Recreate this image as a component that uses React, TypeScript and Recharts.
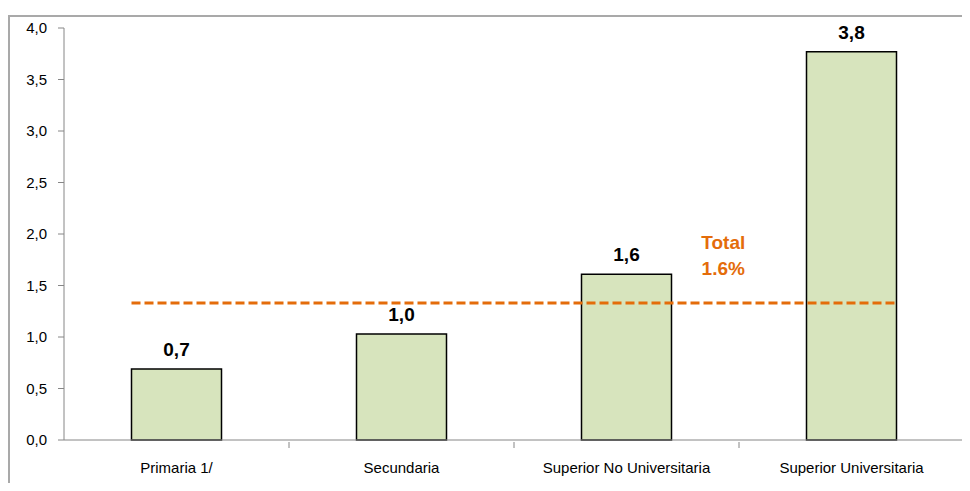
import React from "react";
import {
  BarChart,
  Bar,
  XAxis,
  YAxis,
  ReferenceLine,
  ReferenceDot,
  LabelList,
} from "recharts";

const categories = [
  "Primaria 1/",
  "Secundaria",
  "Superior No Universitaria",
  "Superior Universitaria",
];
const rates = [0.69, 1.03, 1.61, 3.77];
const yTicks = [0, 0.5, 1, 1.5, 2, 2.5, 3, 3.5, 4];
const totalLine = 1.33;
const totalValue = 1.6;
const totalLabel = ["Total", "1.6%"];

const data = categories.map((name, i) => ({ name, value: rates[i] }));

const ORANGE = "#e46c0a";
const GRAY = "#868686";
const FONT = "'Liberation Sans', Arial, sans-serif";

const CHART_W = 962;
const MARGIN = { top: 11, right: 8, bottom: 17, left: 0 };
const Y_W = 54;
const BAND = (CHART_W - MARGIN.left - MARGIN.right - Y_W) / categories.length;
const GAP = 0.3; // barCategoryGap as fraction of band

const comma = (v: number) => v.toFixed(1).replace(".", ",");

function CategoryTick(props: any) {
  const { x, y, payload } = props;
  const right = x + BAND / 2;
  return (
    <g>
      <line x1={right} y1={y} x2={right} y2={y + 6} stroke={GRAY} />
      <text
        x={x}
        y={y + 20}
        dy="0.71em"
        textAnchor="middle"
        fill="#000"
        fontSize={15}
        fontFamily={FONT}
      >
        {payload.value}
      </text>
    </g>
  );
}

// dashed total line, stretched from the first bar's left edge to the last bar's right edge
function TotalLine(props: any) {
  const { x1, x2, y1 } = props;
  const ext = (BAND * (1 - 2 * GAP)) / 2;
  return (
    <line
      x1={x1 - ext}
      x2={x2 + ext}
      y1={y1}
      y2={y1}
      stroke={ORANGE}
      strokeWidth={3}
      strokeDasharray="9 4"
    />
  );
}

function TotalText(props: any) {
  const { cx, cy } = props;
  const x = cx + BAND * 0.43;
  return (
    <g fill={ORANGE} fontWeight="bold" fontSize={19} fontFamily={FONT}>
      <text x={x} y={cy - 26} textAnchor="middle">
        {totalLabel[0]}
      </text>
      <text x={x} y={cy} textAnchor="middle">
        {totalLabel[1]}
      </text>
    </g>
  );
}

export default function App() {
  return (
    <div
      style={{
        width: 962,
        height: 475,
        overflow: "hidden",
        paddingTop: 7,
        boxSizing: "border-box",
      }}
    >
      <div
        style={{
          width: 990,
          height: 520,
          borderTop: "2px solid #a9a9a9",
          borderLeft: "2px solid #a9a9a9",
        }}
      >
        <BarChart
          width={CHART_W}
          height={470}
          data={data}
          margin={MARGIN}
          barCategoryGap={`${GAP * 100}%`}
        >
          <XAxis
            dataKey="name"
            height={30}
            tickSize={0}
            axisLine={{ stroke: GRAY }}
            tickLine={false}
            tick={<CategoryTick />}
            interval={0}
          />
          <YAxis
            width={Y_W}
            domain={[0, 4]}
            ticks={yTicks}
            tickFormatter={comma}
            tickSize={6}
            tickMargin={11}
            axisLine={{ stroke: GRAY }}
            tickLine={{ stroke: GRAY }}
            tick={{ fill: "#000", fontSize: 15, fontFamily: FONT }}
          />
          <Bar
            dataKey="value"
            fill="#d7e4bd"
            stroke="#000"
            strokeWidth={1.5}
            isAnimationActive={false}
          >
            <LabelList
              dataKey="value"
              position="top"
              offset={13}
              formatter={(v: any) => comma(Number(v))}
              fill="#000"
              fontWeight="bold"
              fontSize={19}
              fontFamily={FONT}
            />
          </Bar>
          <ReferenceLine
            segment={[
              { x: categories[0], y: totalLine },
              { x: categories[categories.length - 1], y: totalLine },
            ]}
            shape={TotalLine}
          />
          <ReferenceDot
            x={categories[2]}
            y={totalValue}
            r={0}
            shape={TotalText}
          />
        </BarChart>
      </div>
    </div>
  );
}
